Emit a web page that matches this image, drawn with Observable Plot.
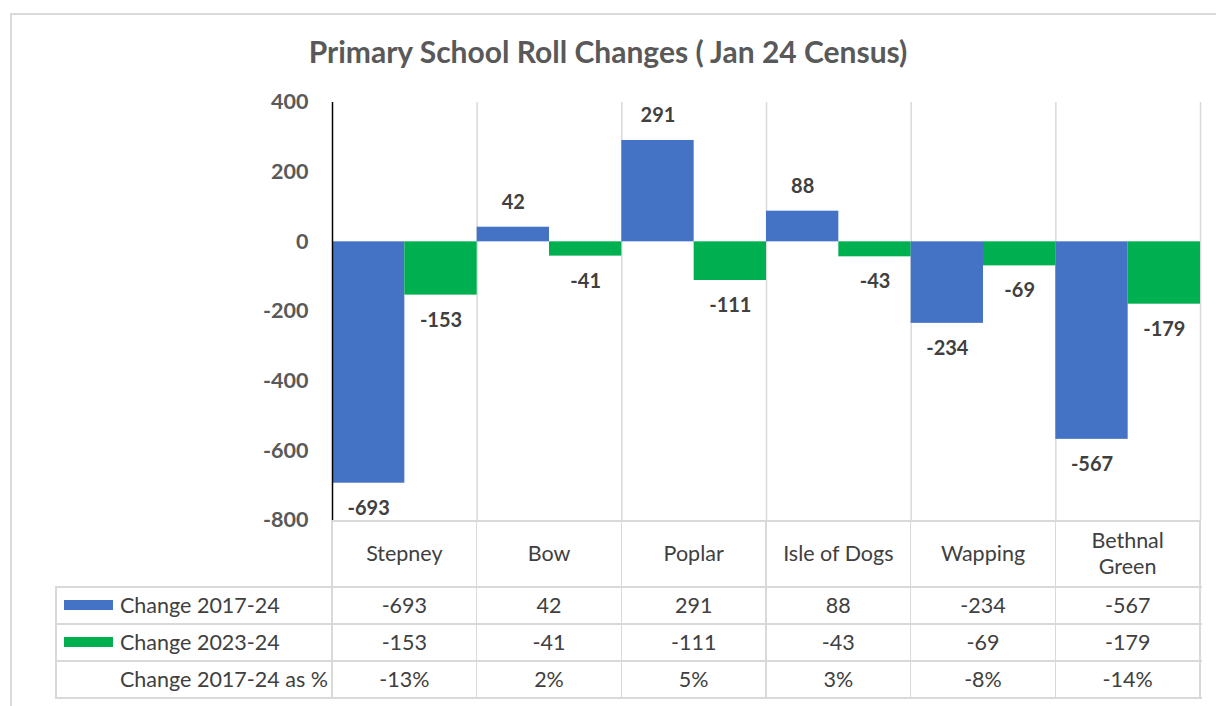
<!DOCTYPE html>
<html><head><meta charset="utf-8">
<script src="https://cdn.jsdelivr.net/npm/d3@7"></script>
<script src="https://cdn.jsdelivr.net/npm/@observablehq/plot@0.6"></script>
<style>
body{margin:0;background:#fff;font-family:Lato,"Open Sans",sans-serif;}
#wrap{position:relative;width:1216px;height:706px;overflow:hidden;background:#fff;}
#frame{position:absolute;left:10px;top:13px;width:1240px;height:740px;border:2px solid #d9d9d9;box-sizing:border-box;z-index:5;pointer-events:none;}
#title{position:absolute;top:33px;left:0;width:1216px;text-align:center;font-weight:bold;font-size:30px;color:#595959;z-index:2;}
#chart{position:absolute;left:0;top:70px;}
.ln{position:absolute;background:#d9d9d9;}
.cell{position:absolute;display:flex;align-items:center;justify-content:center;text-align:center;color:#404040;font-size:21.5px;white-space:pre-line;line-height:26px;}
.lab{position:absolute;display:flex;align-items:center;color:#404040;font-size:21.5px;white-space:nowrap;}
.sw{display:inline-block;width:49px;height:10px;margin-right:7px;}
</style></head>
<body>
<div id="wrap">
  <div id="frame"></div>
  <div id="chart"></div>
  <div id="title">Primary School Roll Changes ( Jan 24 Census)</div>
</div>
<script>
const districts = ["Stepney", "Bow", "Poplar", "Isle of Dogs", "Wapping", "Bethnal Green"];
const districtLabels = ["Stepney", "Bow", "Poplar", "Isle of Dogs", "Wapping", "Bethnal\nGreen"];
const seriesNames = ["Change 2017-24", "Change 2023-24"];
const change1724 = [-693, 42, 291, 88, -234, -567];
const change2324 = [-153, -41, -111, -43, -69, -179];
const change1724Pct = ["-13%", "2%", "5%", "3%", "-8%", "-14%"];
const pctRowLabel = "Change 2017-24 as %";
const yTicks = [400, 200, 0, -200, -400, -600, -800];
const colors = ["#4472C4", "#00B050"];

const bars = districts.flatMap((d, i) => [
  {district: d, i, s: 0, series: seriesNames[0], v: change1724[i]},
  {district: d, i, s: 1, series: seriesNames[1], v: change2324[i]}
]);
const half = 1 / seriesNames.length;
const x1 = d => d.i + d.s * half;
const x2 = d => d.i + (d.s + 1) * half;
const xm = d => d.i + (d.s + 0.5) * half;

const labelStyle = {fontSize: 20, fontWeight: "bold", fill: "#404040", fontFamily: "Lato"};

const top0 = 70;
const chart = Plot.plot({
  width: 1216, height: 470,
  marginLeft: 332, marginRight: 16, marginTop: 32, marginBottom: 20,
  style: {fontFamily: "Lato", background: "transparent"},
  x: {domain: [0, districts.length], axis: null},
  y: {domain: [d3.min(yTicks), d3.max(yTicks)], axis: null},
  color: {domain: seriesNames, range: colors},
  marks: [
    Plot.ruleX(d3.range(1, districts.length + 1), {stroke: "#d9d9d9", strokeWidth: 1.5}),
    Plot.rect(bars, {x1, x2, y1: 0, y2: "v", fill: "series"}),
    Plot.ruleX([0], {stroke: "black", strokeWidth: 1.5}),
    Plot.axisY({ticks: yTicks, tickSize: 0, tickPadding: 24, tickFormat: d => String(d), label: null,
      fontSize: 21.5, fontWeight: "bold", fill: "#595959", fontFamily: "Lato"}),
    Plot.text(bars.filter(d => d.v >= 0), {x: xm, y: "v", text: d => String(d.v), dy: -25, ...labelStyle}),
    Plot.text(bars.filter(d => d.v < 0), {x: xm, y: "v", text: d => String(d.v), dy: 25, ...labelStyle})
  ]
});
document.getElementById("chart").appendChild(chart);

// data table under the chart, aligned to the chart's x scale
const wrap = document.getElementById("wrap");
const xs = chart.scale("x"), ys = chart.scale("y");
const edges = d3.range(0, districts.length + 1).map(i => xs.apply(i));
const tableTop = top0 + ys.apply(d3.min(yTicks));
const headerH = 66, rowH = 37, tableLeft = 55;
const rows = [
  {label: seriesNames[0], color: colors[0], values: change1724.map(String)},
  {label: seriesNames[1], color: colors[1], values: change2324.map(String)},
  {label: pctRowLabel, color: null, values: change1724Pct}
];
const rowTops = rows.map((r, k) => tableTop + headerH + k * rowH);
const tableBottom = tableTop + headerH + rows.length * rowH;

function el(cls, css, html) {
  const e = document.createElement("div");
  e.className = cls;
  Object.assign(e.style, css);
  if (html != null) e.textContent = html;
  wrap.appendChild(e);
  return e;
}
// lines
el("ln", {left: edges[0] + "px", top: tableTop + "px", width: (edges[edges.length-1] - edges[0]) + "px", height: "1.5px"});
[tableTop + headerH, ...rowTops.slice(1), tableBottom].forEach(y =>
  el("ln", {left: tableLeft + "px", top: y + "px", width: (edges[edges.length-1] - tableLeft + 1.5) + "px", height: "1.5px"}));
edges.forEach(x => el("ln", {left: (x - 0.75) + "px", top: tableTop + "px", width: "1.5px", height: (tableBottom - tableTop) + "px"}));
el("ln", {left: tableLeft + "px", top: (tableTop + headerH) + "px", width: "1.5px", height: (rows.length * rowH) + "px"});

// header
districtLabels.forEach((d, i) => el("cell", {left: edges[i] + "px", top: tableTop + "px", width: (edges[i+1] - edges[i]) + "px", height: headerH + "px"}, d));
// rows
rows.forEach((r, k) => {
  const lab = el("lab", {left: (tableLeft + 9) + "px", top: rowTops[k] + "px", height: rowH + "px"});
  const sw = document.createElement("span");
  sw.className = "sw";
  sw.style.background = r.color || "transparent";
  lab.appendChild(sw);
  lab.appendChild(document.createTextNode(r.label));
  r.values.forEach((v, i) => el("cell", {left: edges[i] + "px", top: rowTops[k] + "px", width: (edges[i+1] - edges[i]) + "px", height: rowH + "px"}, v));
});
</script>
</body></html>
